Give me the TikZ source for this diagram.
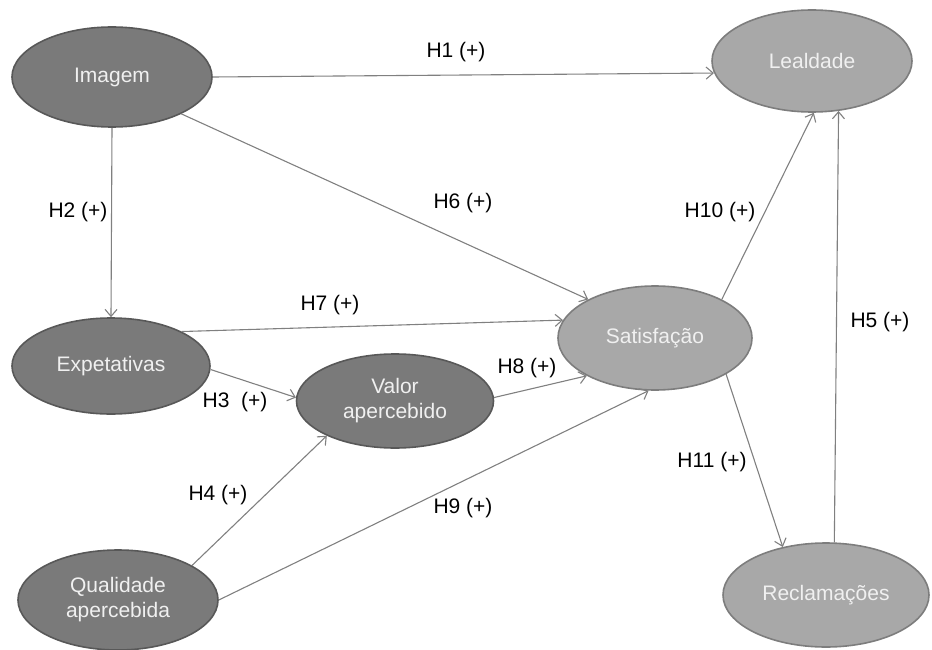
\documentclass[tikz,border=0pt]{standalone}
\usepackage{fontspec}
\setmainfont{Liberation Sans}
\usetikzlibrary{shapes.geometric,arrows.meta}
\definecolor{darkfill}{RGB}{122,122,122}
\definecolor{darkline}{RGB}{88,88,88}
\definecolor{lightfill}{RGB}{168,168,168}
\definecolor{lightline}{RGB}{125,125,125}
\definecolor{nodetext}{RGB}{240,240,240}
\definecolor{arrowgray}{RGB}{128,128,128}
\tikzset{
  base/.style={ellipse, inner sep=0pt, line width=1.6pt, text=nodetext, align=center,
    font=\fontsize{21}{25}\selectfont},
  darkell/.style={base, fill=darkfill, draw=darkline},
  lightell/.style={base, fill=lightfill, draw=lightline},
  conn/.style={draw=arrowgray, line width=1.1pt, -{Straight Barb[length=7pt,width=12pt]}},
  lbl/.style={font=\fontsize{21}{25}\selectfont, text=black, inner sep=0pt}
}
\begin{document}
\begin{tikzpicture}[x=1pt,y=-1pt]
\useasboundingbox (0,0) rectangle (932,650);
\node[darkell, minimum width=200pt, minimum height=100pt] (imagem) at (112,77) {Imagem};
\node[lightell, minimum width=200pt, minimum height=102pt] (lealdade) at (812,61) {Lealdade};
\node[lightell, minimum width=194pt, minimum height=104pt] (satisf) at (655,338) {Satisfação};
\node[darkell, minimum width=197pt, minimum height=94pt] (valor) at (395,401) {Valor\\apercebido};
\node[darkell, minimum width=198pt, minimum height=96pt] (expet) at (111,366) {Expetativas};
\node[darkell, minimum width=200pt, minimum height=100pt] (qual) at (118,600) {Qualidade\\apercebida};
\node[lightell, minimum width=206pt, minimum height=104pt] (recl) at (826,595) {Reclamações};

\draw[conn] (imagem.east) -- (lealdade.187);
\draw[conn] (imagem.-28) -- (satisf.150);
\draw[conn] (imagem.south) -- (expet.north);
\draw[conn] (expet.26) -- (satisf.169);
\draw[conn] (expet.-2) -- (valor.178);
\draw[conn] (valor.2) -- (satisf.209);
\draw[conn] (qual.25) -- (valor.207);
\draw[conn] (qual.0) -- (satisf.263);
\draw[conn] (satisf.30) -- (lealdade.272);
\draw[conn] (satisf.-27) -- (recl.132);
\draw[conn] (recl.81) -- (lealdade.-62);

\node[lbl] (h1) at (456,52) {H1 (+)};
\node[lbl] (h6) at (463,203) {H6 (+)};
\node[lbl] (h2) at (78,212) {H2 (+)};
\node[lbl] (h7) at (330,305) {H7 (+)};
\node[lbl] (h3) at (235,402) {H3\ \ (+)};
\node[lbl] (h8) at (527,368) {H8 (+)};
\node[lbl] (h4) at (218,495) {H4 (+)};
\node[lbl] (h9) at (463,508) {H9 (+)};
\node[lbl] (h10) at (720,212) {H10 (+)};
\node[lbl] (h11) at (712,462) {H11 (+)};
\node[lbl] (h5) at (880,322) {H5 (+)};
\end{tikzpicture}
\end{document}
